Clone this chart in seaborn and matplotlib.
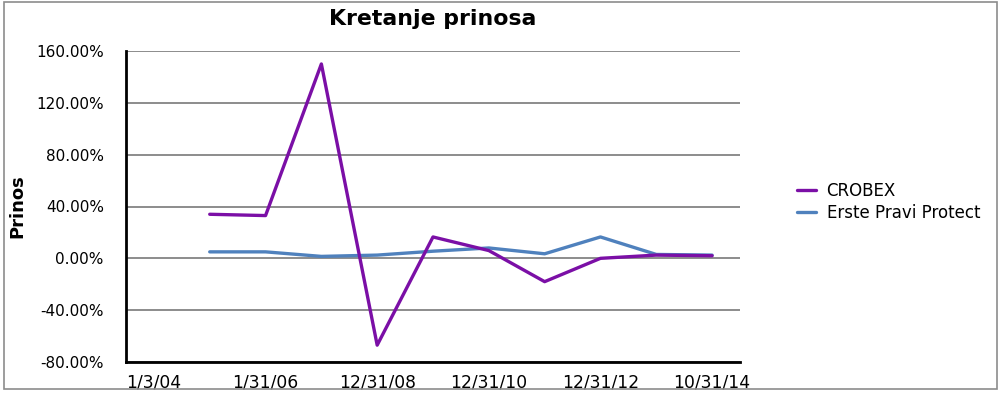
import numpy as np
import pandas as pd
import matplotlib
matplotlib.use("Agg")
import matplotlib.pyplot as plt
import seaborn as sns
from matplotlib.ticker import FuncFormatter, FixedLocator
from matplotlib.patches import Rectangle

# ---- data ----
categories = ["1/3/04", "12/31/04", "1/31/06", "12/31/07", "12/31/08", "12/31/09",
              "12/31/10", "12/31/11", "12/31/12", "12/31/13", "10/31/14"]
crobex = [np.nan, 34.0, 33.0, 150.0, -67.0, 16.5, 6.0, -18.0, 0.0, 2.5, 2.0]
erste = [np.nan, 5.0, 5.0, 1.5, 2.5, 5.5, 8.0, 3.5, 16.5, 3.0, 2.5]
series_names = ["CROBEX", "Erste Pravi Protect"]
shown_labels = ["1/3/04", "1/31/06", "12/31/08", "12/31/10", "12/31/12", "10/31/14"]
y_ticks = [-80, -40, 0, 40, 80, 120, 160]

df = pd.DataFrame({
    "idx": list(range(len(categories))) * 2,
    "value": crobex + erste,
    "series": [series_names[0]] * len(categories) + [series_names[1]] * len(categories),
})

sns.set_theme(style="white")
plt.rcParams["font.family"] = ["DejaVu Sans"]
plt.rcParams["text.color"] = "black"
plt.rcParams["axes.labelcolor"] = "black"

fig = plt.figure(figsize=(10.08, 3.93), dpi=100)
ax = fig.add_axes([126 / 1008, 1 - 362 / 393, (740 - 126) / 1008, (362 - 51) / 393])

palette = {"CROBEX": "#7B0FA6", "Erste Pravi Protect": "#4F81BD"}
# draw blue first, purple on top
for name in [series_names[1], series_names[0]]:
    sub = df[df["series"] == name]
    sns.lineplot(data=sub, x="idx", y="value", ax=ax, color=palette[name],
                 linewidth=2.4, label=name, zorder=3)

ax.set_xlim(-0.5, len(categories) - 0.5)
ax.set_ylim(-80, 160)
ax.yaxis.set_major_locator(FixedLocator(y_ticks))
ax.yaxis.set_major_formatter(FuncFormatter(lambda v, p: f"{v:.2f}%"))
pos = [categories.index(l) for l in shown_labels]
ax.set_xticks(pos)
ax.set_xticklabels(shown_labels)
ax.tick_params(axis="both", colors="black", length=0)
ax.tick_params(axis="y", pad=16, labelsize=11)
ax.tick_params(axis="x", pad=8, labelsize=12.3)
ax.grid(axis="y", color="#8c8c8c", linewidth=1.4)
ax.set_axisbelow(True)
for s in ["top", "right"]:
    ax.spines[s].set_visible(False)
for s in ["left", "bottom"]:
    ax.spines[s].set_color("black")
    ax.spines[s].set_linewidth(2)
    ax.spines[s].set_zorder(4)
ax.set_xlabel("")
ax.set_ylabel("Prinos", fontsize=13, fontweight="bold", labelpad=7, color="black")
ax.set_title("Kretanje prinosa", fontsize=15.8, fontweight="bold", pad=19, color="black")

handles, labels = ax.get_legend_handles_labels()
order = [labels.index(n) for n in series_names]
leg = ax.legend([handles[i] for i in order], [labels[i] for i in order],
                loc="center left", bbox_to_anchor=(1.069, 0.515), frameon=False,
                fontsize=12, handlelength=1.1, handletextpad=0.65, labelspacing=0.25)
for h in leg.get_lines():
    h.set_linewidth(2.4)

fig.patches.append(Rectangle((4 / 1008, 1 - 389 / 393), (997 - 4) / 1008, (389 - 2) / 393,
                             transform=fig.transFigure, fill=False,
                             edgecolor="#8c8c8c", linewidth=1.2))

fig.savefig("out.png", dpi=100)
